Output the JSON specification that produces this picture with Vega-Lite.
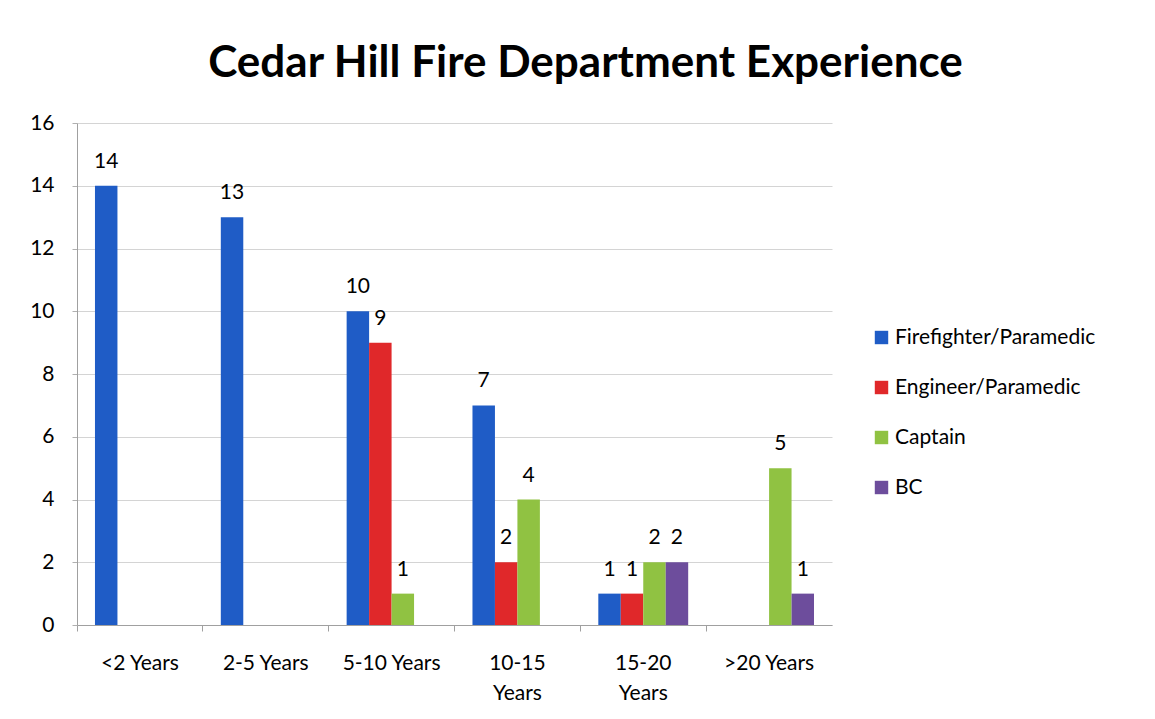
{
  "$schema": "https://vega.github.io/schema/vega-lite/v6.json",
  "autosize": "none",
  "width": 755,
  "height": 502,
  "padding": {"left": 77, "top": 123, "right": 323, "bottom": 94},
  "background": "white",
  "title": {
    "text": "Cedar Hill Fire Department Experience",
    "font": "Lato",
    "fontSize": 44,
    "fontWeight": "bold",
    "color": "#000000",
    "anchor": "middle",
    "dx": 131,
    "offset": 26
  },
  "data": {
    "values": [
      {"group": "<2 Years", "role": "Firefighter/Paramedic", "count": 14},
      {"group": "2-5 Years", "role": "Firefighter/Paramedic", "count": 13},
      {"group": "5-10 Years", "role": "Firefighter/Paramedic", "count": 10},
      {"group": "5-10 Years", "role": "Engineer/Paramedic", "count": 9},
      {"group": "5-10 Years", "role": "Captain", "count": 1},
      {"group": "10-15 Years", "role": "Firefighter/Paramedic", "count": 7},
      {"group": "10-15 Years", "role": "Engineer/Paramedic", "count": 2},
      {"group": "10-15 Years", "role": "Captain", "count": 4},
      {"group": "15-20 Years", "role": "Firefighter/Paramedic", "count": 1},
      {"group": "15-20 Years", "role": "Engineer/Paramedic", "count": 1},
      {"group": "15-20 Years", "role": "Captain", "count": 2},
      {"group": "15-20 Years", "role": "BC", "count": 2},
      {"group": ">20 Years", "role": "Captain", "count": 5},
      {"group": ">20 Years", "role": "BC", "count": 1}
    ]
  },
  "encoding": {
    "x": {
      "field": "group",
      "type": "nominal",
      "sort": ["<2 Years", "2-5 Years", "5-10 Years", "10-15 Years", "15-20 Years", ">20 Years"],
      "scale": {"paddingInner": 0, "paddingOuter": 0},
      "axis": {
        "title": null,
        "labelAngle": 0,
        "labelFont": "Lato",
        "labelFontSize": 21,
        "labelColor": "#000000",
        "labelPadding": 21,
        "labelLineHeight": 30,
        "labelExpr": "(datum.label == '10-15 Years' || datum.label == '15-20 Years') ? split(datum.label, ' ') : datum.label",
        "bandPosition": 0,
        "tickSize": 6,
        "tickColor": "#a0a0a0",
        "domainColor": "#a0a0a0",
        "grid": false
      }
    },
    "xOffset": {
      "field": "role",
      "type": "nominal",
      "sort": ["Firefighter/Paramedic", "Engineer/Paramedic", "Captain", "BC"],
      "scale": {"paddingInner": 0, "paddingOuter": 0.8}
    },
    "y": {
      "field": "count",
      "type": "quantitative",
      "scale": {"domain": [0, 16]},
      "axis": {
        "title": null,
        "values": [0, 2, 4, 6, 8, 10, 12, 14, 16],
        "labelFont": "Lato",
        "labelFontSize": 21,
        "labelColor": "#000000",
        "labelPadding": 18,
        "tickSize": 5,
        "tickColor": "#b0b0b0",
        "domainColor": "#a0a0a0",
        "gridColor": "#d4d4d4"
      }
    }
  },
  "layer": [
    {
      "mark": {"type": "bar", "width": {"band": 1}},
      "encoding": {
        "color": {
          "field": "role",
          "type": "nominal",
          "sort": ["Firefighter/Paramedic", "Engineer/Paramedic", "Captain", "BC"],
          "scale": {
            "domain": ["Firefighter/Paramedic", "Engineer/Paramedic", "Captain", "BC"],
            "range": ["#1f5cc6", "#e0282a", "#90c242", "#6d4d9c"]
          },
          "legend": {
            "title": null,
            "orient": "none",
            "legendX": 794,
            "legendY": 204,
            "symbolType": "square",
            "symbolSize": 180,
            "symbolStrokeWidth": 0,
            "labelFont": "Lato",
            "labelFontSize": 21,
            "labelColor": "#000000",
            "labelOffset": 3,
            "rowPadding": 28,
            "labelLimit": 400
          }
        }
      }
    },
    {
      "mark": {"type": "text", "baseline": "bottom", "dy": -14, "font": "Lato", "fontSize": 21, "color": "#000000"},
      "encoding": {"text": {"field": "count", "type": "quantitative"}}
    }
  ],
  "config": {"view": {"stroke": null}}
}
